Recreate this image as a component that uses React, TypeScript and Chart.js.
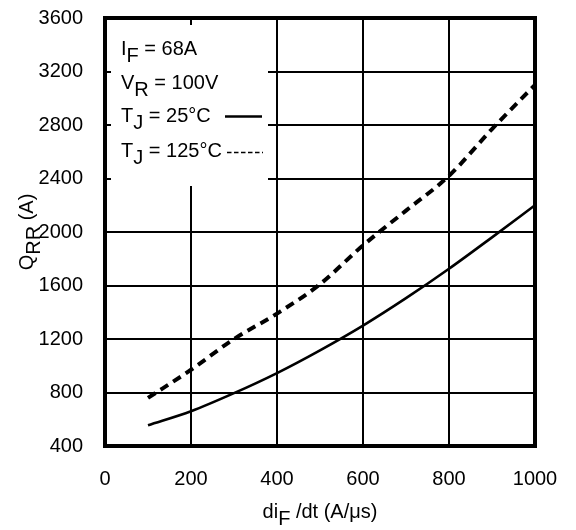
import React, { useEffect, useRef } from "react";
import { Chart, registerables } from "chart.js";

Chart.register(...registerables);

// ---- data ----
const diFdt = [100, 200, 300, 400, 500, 600, 700, 800, 900, 1000];
const qrrTj25 = [555, 660, 795, 945, 1115, 1300, 1505, 1725, 1960, 2200];
const qrrTj125 = [760, 970, 1200, 1390, 1610, 1900, 2160, 2420, 2770, 3100];
const xTickValues = [0, 200, 400, 600, 800, 1000];
const yTickValues = [400, 800, 1200, 1600, 2000, 2400, 2800, 3200, 3600];

type Piece = [string, boolean];
const legendRows: Piece[][] = [
  [["I", false], ["F", true], [" = 68A", false]],
  [["V", false], ["R", true], [" = 100V", false]],
  [["T", false], ["J", true], [" = 25°C", false]],
  [["T", false], ["J", true], [" = 125°C", false]],
];
const xTitle: Piece[] = [["di", false], ["F", true], [" /dt (A/μs)", false]];
const yTitle: Piece[] = [["Q", false], ["RR", true], [" (A)", false]];

const FONT_FAMILY = '"Liberation Sans", Arial, Helvetica, sans-serif';
const FONT_SIZE = 20;

function piecesWidth(ctx: CanvasRenderingContext2D, pieces: Piece[]) {
  let w = 0;
  for (const [t] of pieces) w += ctx.measureText(t).width;
  return w;
}

function drawPieces(
  ctx: CanvasRenderingContext2D,
  pieces: Piece[],
  x: number,
  y: number,
  subOffset: number
) {
  let cx = x;
  for (const [t, sub] of pieces) {
    ctx.fillText(t, cx, y + (sub ? subOffset : 0));
    cx += ctx.measureText(t).width;
  }
  return cx;
}

const decorPlugin = {
  id: "decor",
  beforeDatasetsDraw(chart: any) {
    const ctx: CanvasRenderingContext2D = chart.ctx;
    ctx.save();
    ctx.fillStyle = "#ffffff";
    ctx.fillRect(111, 25, 157, 161);
    ctx.restore();
  },
  afterDraw(chart: any) {
    const ctx: CanvasRenderingContext2D = chart.ctx;
    const a = chart.chartArea;
    ctx.save();
    // frame
    ctx.strokeStyle = "#000";
    ctx.lineWidth = 4;
    ctx.setLineDash([]);
    ctx.strokeRect(a.left, a.top, a.right - a.left, a.bottom - a.top);

    ctx.fillStyle = "#000";
    ctx.font = `${FONT_SIZE}px ${FONT_FAMILY}`;
    ctx.textBaseline = "alphabetic";
    ctx.textAlign = "left";

    // legend text
    const baselines = [55, 88.5, 122, 156.5];
    legendRows.forEach((row, i) => {
      drawPieces(ctx, row, 121, baselines[i], 7);
    });
    // legend samples
    ctx.lineWidth = 2.5;
    ctx.beginPath();
    ctx.moveTo(225, 116.5);
    ctx.lineTo(262, 116.5);
    ctx.stroke();
    ctx.lineWidth = 1.6;
    ctx.setLineDash([4.5, 2.5]);
    ctx.beginPath();
    ctx.moveTo(227, 152.5);
    ctx.lineTo(263, 152.5);
    ctx.stroke();
    ctx.setLineDash([]);

    // x title
    const xw = piecesWidth(ctx, xTitle);
    const xc = (a.left + a.right) / 2;
    drawPieces(ctx, xTitle, xc - xw / 2, 517.5, 7);

    // y title
    const yw = piecesWidth(ctx, yTitle);
    const yc = (a.top + a.bottom) / 2;
    ctx.translate(33, yc + yw / 2);
    ctx.rotate(-Math.PI / 2);
    drawPieces(ctx, yTitle, 0, 0, 7);
    ctx.restore();
  },
};

export default function App() {
  const canvasRef = useRef<HTMLCanvasElement | null>(null);

  useEffect(() => {
    if (!canvasRef.current) return;
    const tickFont = { family: FONT_FAMILY, size: FONT_SIZE };
    const chart = new Chart(canvasRef.current, {
      type: "line",
      data: {
        datasets: [
          {
            label: "TJ = 25°C",
            data: diFdt.map((x, i) => ({ x, y: qrrTj25[i] })),
            borderColor: "#000",
            borderWidth: 2.6,
            pointRadius: 0,
            cubicInterpolationMode: "monotone",
            fill: false,
          },
          {
            label: "TJ = 125°C",
            data: diFdt.map((x, i) => ({ x, y: qrrTj125[i] })),
            borderColor: "#000",
            borderWidth: 4,
            borderDash: [9, 6],
            pointRadius: 0,
            cubicInterpolationMode: "monotone",
            fill: false,
          },
        ],
      },
      options: {
        animation: false,
        responsive: false,
        devicePixelRatio: 1,
        layout: { padding: { left: 0, right: 41, top: 18, bottom: 0 } },
        plugins: {
          legend: { display: false },
          tooltip: { enabled: false },
          title: { display: false },
        },
        scales: {
          x: {
            type: "linear",
            min: 0,
            max: 1000,
            afterBuildTicks: (s: any) => {
              s.ticks = xTickValues.map((v) => ({ value: v }));
            },
            afterFit: (s: any) => {
              s.height = 84;
              s.paddingLeft = 0;
              s.paddingRight = 0;
              s.paddingTop = 0;
              s.paddingBottom = 0;
            },
            ticks: {
              color: "#000",
              font: tickFont,
              padding: 21,
              maxRotation: 0,
              callback: (v: any) => String(v),
            },
            grid: { color: "#000", lineWidth: 2, drawTicks: false },
            border: { display: false },
          },
          y: {
            type: "linear",
            min: 400,
            max: 3600,
            afterBuildTicks: (s: any) => {
              s.ticks = yTickValues.map((v) => ({ value: v }));
            },
            afterFit: (s: any) => {
              s.width = 105;
              s.paddingLeft = 0;
              s.paddingRight = 0;
              s.paddingTop = 0;
              s.paddingBottom = 0;
            },
            ticks: {
              color: "#000",
              font: tickFont,
              padding: 22,
              callback: (v: any) => String(v),
            },
            grid: { color: "#000", lineWidth: 2, drawTicks: false },
            border: { display: false },
          },
        },
      },
      plugins: [decorPlugin],
    } as any);
    return () => chart.destroy();
  }, []);

  return (
    <div style={{ position: "fixed", left: 0, top: 0, width: 576, height: 530, background: "#fff" }}>
      <canvas ref={canvasRef} width={576} height={530} style={{ width: 576, height: 530 }} />
    </div>
  );
}
